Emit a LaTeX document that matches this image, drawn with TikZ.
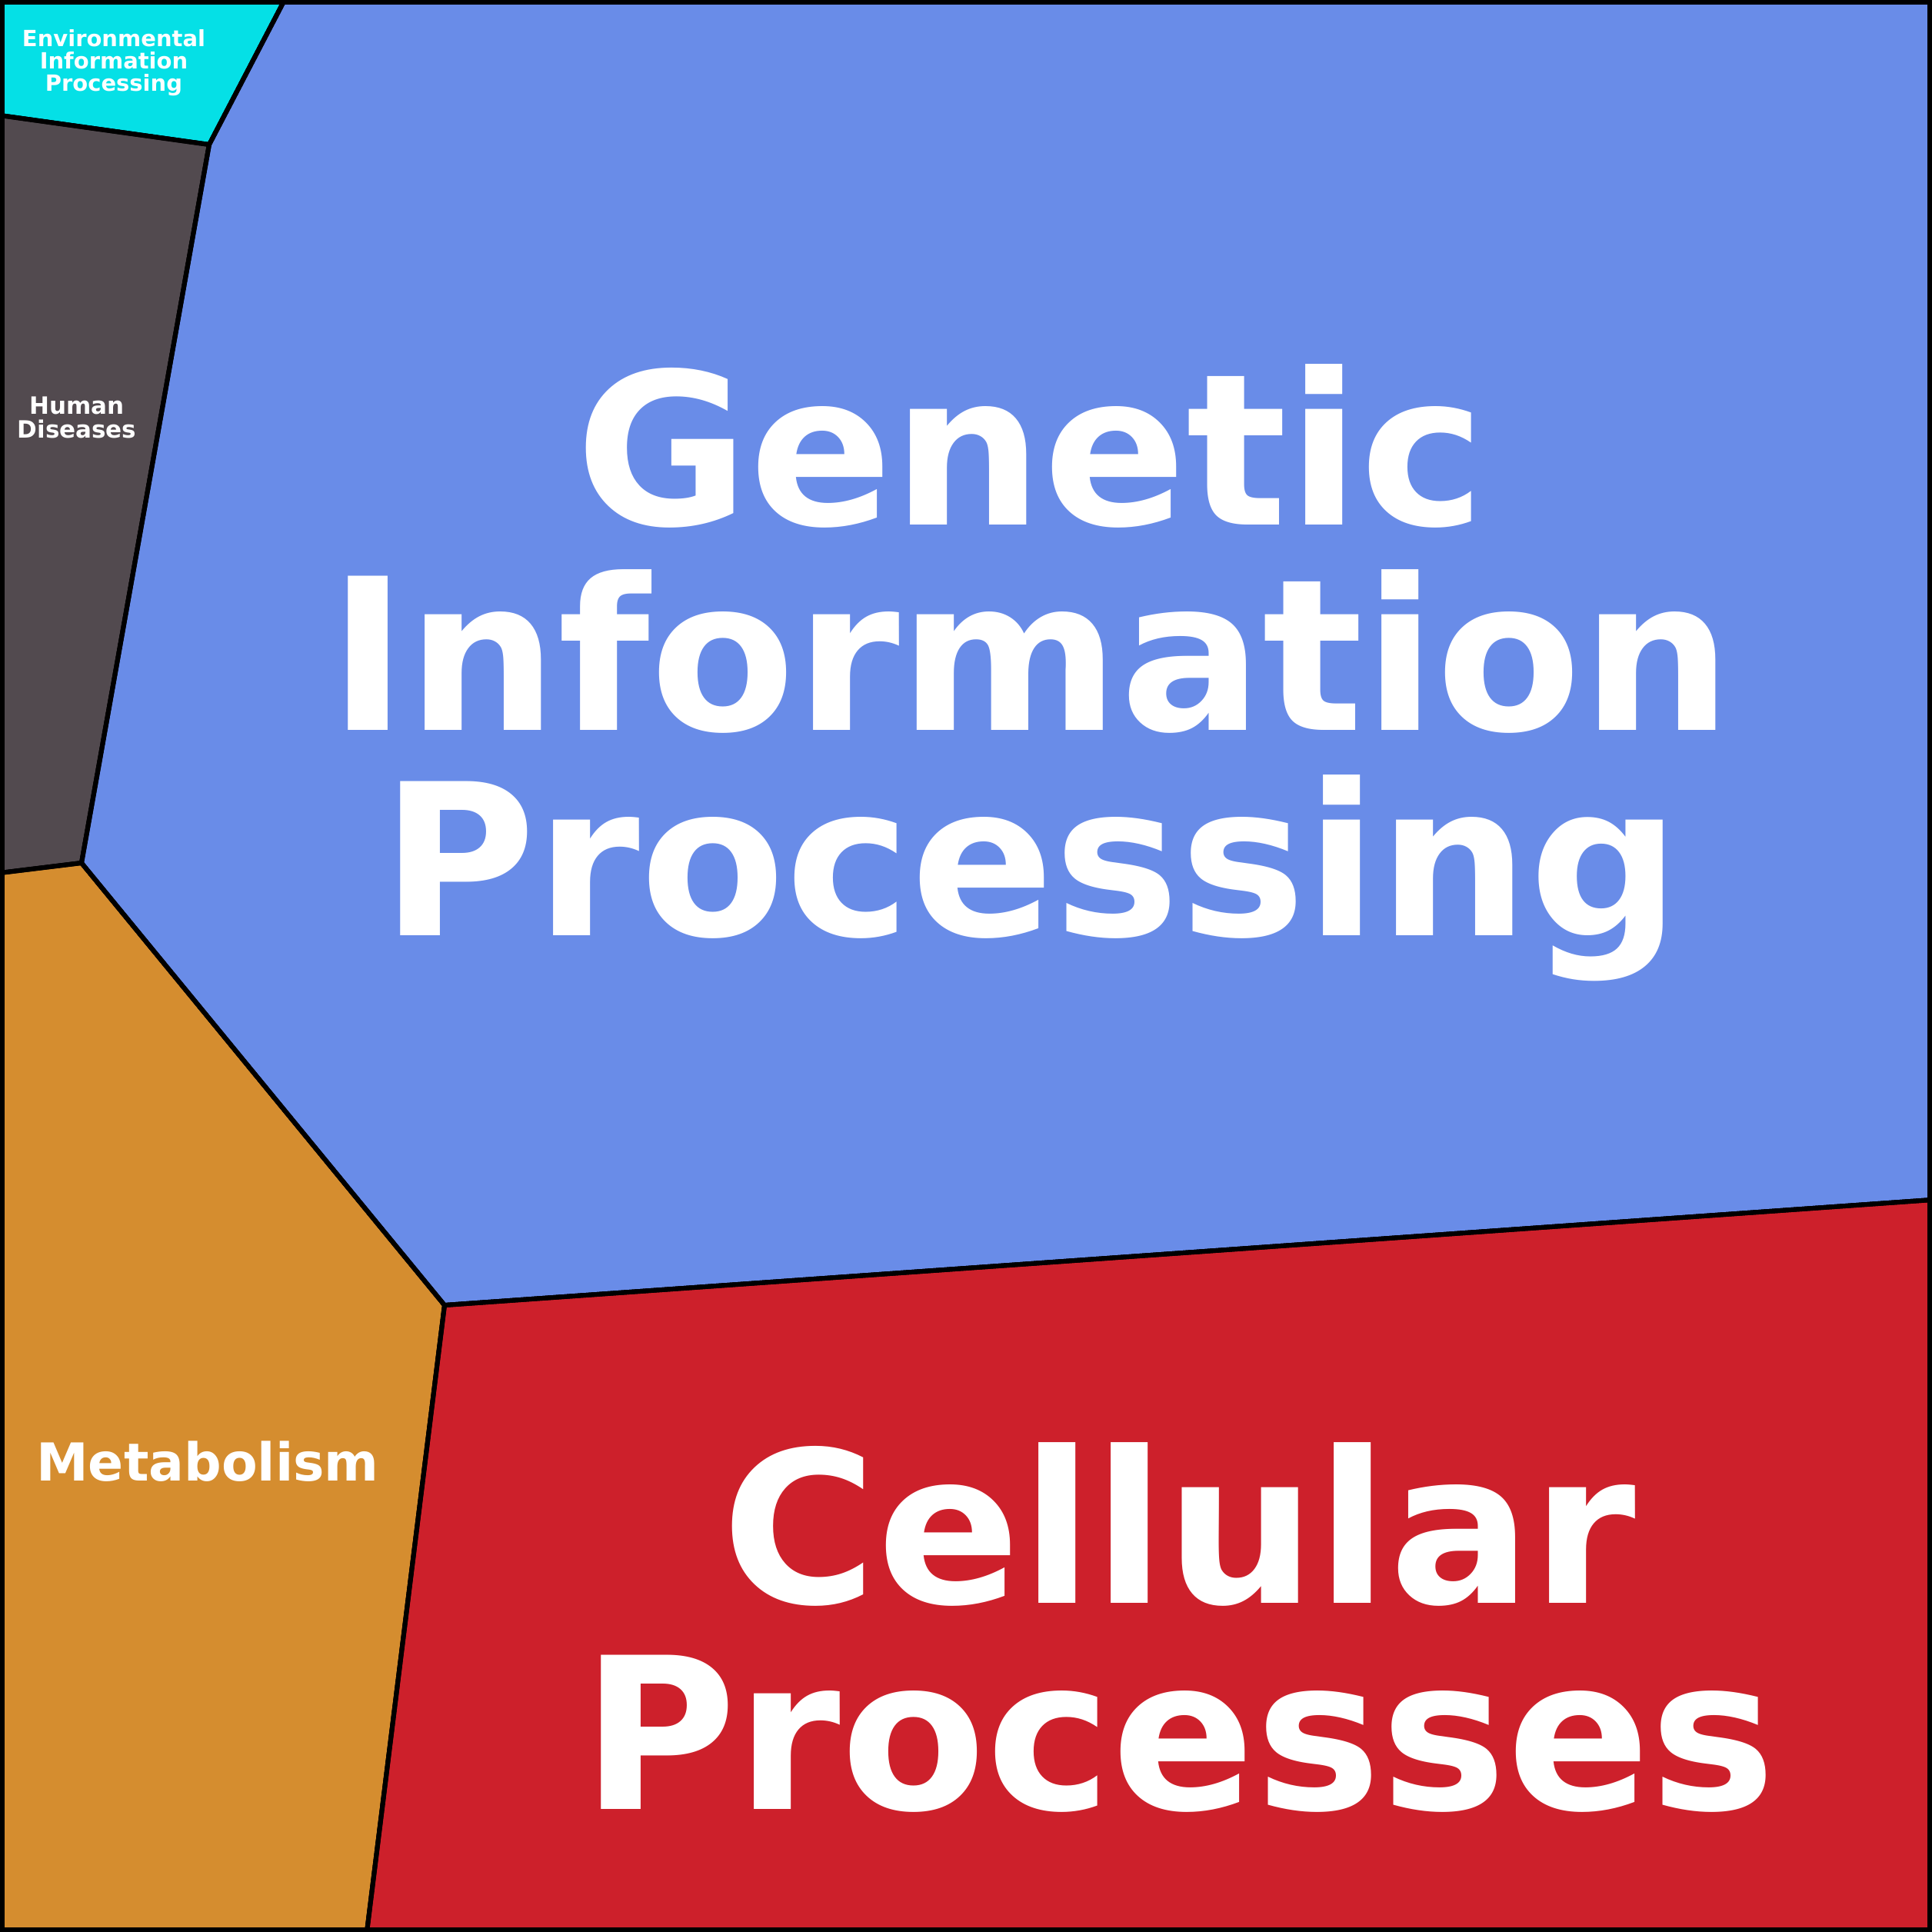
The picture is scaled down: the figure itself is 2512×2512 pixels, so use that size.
\documentclass[tikz,border=0pt]{standalone}
\usepackage{fontspec}
\setmainfont{DejaVu Sans}
\begin{document}
\begin{tikzpicture}[x=1pt,y=-1pt,
  reg/.style={draw=black,line width=6pt,line join=round},
  lab/.style={text=white,font=\bfseries,align=center,inner sep=0pt}]
\useasboundingbox (0,0) rectangle (2512,2512);
\coordinate (a) at (370,0); \coordinate (b) at (272,188); \coordinate (c) at (0,150);
\coordinate (d) at (106,1122); \coordinate (e) at (0,1135); \coordinate (f) at (578,1697);
\coordinate (g) at (477,2512); \coordinate (h) at (2512,1560);
\fill[reg,fill={rgb,255:red,5;green,224;blue,230}] (0,0) -- (a) -- (b) -- (c) -- cycle;
\fill[reg,fill={rgb,255:red,82;green,74;blue,79}] (c) -- (b) -- (d) -- (e) -- cycle;
\fill[reg,fill={rgb,255:red,213;green,141;blue,47}] (e) -- (d) -- (f) -- (g) -- (0,2512) -- cycle;
\fill[reg,fill={rgb,255:red,105;green,140;blue,232}] (a) -- (2512,0) -- (h) -- (f) -- (d) -- (b) -- cycle;
\fill[reg,fill={rgb,255:red,205;green,32;blue,43}] (f) -- (h) -- (2512,2512) -- (g) -- cycle;
\draw[reg] (0,0) -- (a) -- (b) -- (c) (b) -- (d) -- (e) (d) -- (f) -- (g) (f) -- (h);
\draw[draw=black,line width=12pt] (0,0) rectangle (2512,2512);
\node[lab,font=\bfseries\fontsize{275}{267}\selectfont] (gip) at (1340,875) {Genetic\\Information\\Processing};
\node[lab,font=\bfseries\fontsize{275}{268}\selectfont] (cp) at (1533,2116) {Cellular\\Processes};
\node[lab,font=\bfseries\fontsize{68}{70}\selectfont] (met) at (270,1900) {Metabolism};
\node[lab,font=\bfseries\fontsize{31}{31}\selectfont] (hd) at (100,543) {Human\\Diseases};
\node[lab,font=\bfseries\fontsize{29}{29}\selectfont] (eip) at (148,82) {Environmental\\Information\\Processing};
\end{tikzpicture}
\end{document}
